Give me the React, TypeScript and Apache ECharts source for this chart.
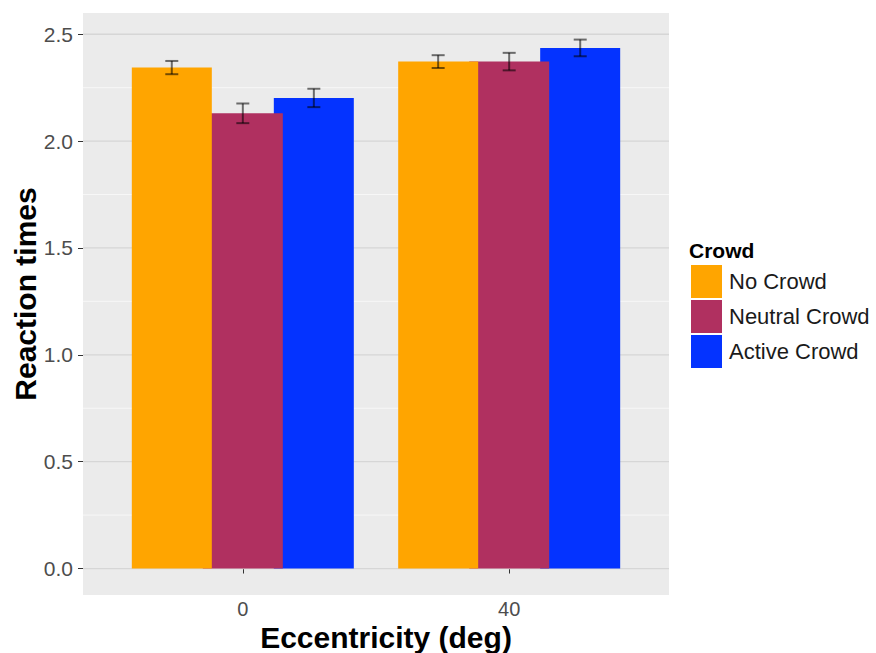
import React, { useEffect, useRef } from 'react';
import * as echarts from 'echarts';

// ---- data ----
const categories = ['0', '40'];
const groupNames = ['No Crowd', 'Neutral Crowd', 'Active Crowd'];
const noCrowd = [2.344, 2.372];
const neutralCrowd = [2.13, 2.372];
const activeCrowd = [2.202, 2.436];
const noCrowdSE = [0.031, 0.03];
const neutralCrowdSE = [0.046, 0.041];
const activeCrowdSE = [0.043, 0.039];
const yTicks = [0, 0.5, 1, 1.5, 2, 2.5];
const yMinor = [0.25, 0.75, 1.25, 1.75, 2.25];

// ---- styling ----
const colors = ['#FFA500', '#B03060', '#0433FF'];
const FONT = '"Liberation Sans", Arial, Helvetica, sans-serif';
const DODGE = 0.8 / 3; // position_dodge offset in axis units
const X_MIN = 0.4;
const X_MAX = 2.6;
const Y_MIN = -0.1238;
const Y_MAX = 2.5994;

export default function App() {
  const ref = useRef<HTMLDivElement>(null);

  useEffect(() => {
    if (!ref.current) return;
    const chart = echarts.init(ref.current, undefined, { renderer: 'svg' });

    const values = [noCrowd, neutralCrowd, activeCrowd];
    const ses = [noCrowdSE, neutralCrowdSE, activeCrowdSE];
    const xPos = categories.map((_, i) => i + 1);

    const barSeries = groupNames.map((name, g) => ({
      name,
      type: 'bar',
      z: 6 - g,
      barWidth: 80,
      barGap: '-11.25%',
      itemStyle: { color: colors[g] },
      emphasis: { disabled: true },
      data: xPos.map((x, i) => [x, values[g][i]]),
    }));

    const errData: number[][] = [];
    groupNames.forEach((_, g) => {
      xPos.forEach((x, i) => {
        errData.push([x, values[g][i], ses[g][i], g]);
      });
    });

    const gridSeries = (vals: number[], color: string, width: number) => ({
      type: 'custom',
      z: 1,
      silent: true,
      encode: { x: 0, y: 1 },
      data: vals.map((v) => [1, v]),
      renderItem: (params: any, api: any) => {
        const cs = params.coordSys;
        const y = api.coord([1, api.value(1)])[1];
        return {
          type: 'line',
          shape: { x1: cs.x, y1: y, x2: cs.x + cs.width, y2: y },
          style: { stroke: color, lineWidth: width },
        };
      },
    });

    const option: any = {
      animation: false,
      textStyle: { fontFamily: FONT },
      grid: {
        left: 83,
        top: 13,
        width: 586,
        height: 582,
        show: true,
        backgroundColor: '#EBEBEB',
        borderWidth: 0,
      },
      xAxis: {
        type: 'value',
        min: X_MIN,
        max: X_MAX,
        axisLine: { show: false },
        splitLine: { show: false },
        axisTick: {
          show: true,
          customValues: xPos,
          length: 5,
          lineStyle: { color: '#333333', width: 1 },
        },
        axisLabel: {
          customValues: xPos,
          formatter: (v: number) => categories[Math.round(v) - 1] ?? '',
          fontSize: 20,
          color: '#4D4D4D',
          fontFamily: FONT,
          margin: 4,
        },
      },
      yAxis: {
        type: 'value',
        min: Y_MIN,
        max: Y_MAX,
        axisLine: { show: false },
        splitLine: { show: false },
        axisTick: {
          show: true,
          customValues: yTicks,
          length: 5,
          lineStyle: { color: '#333333', width: 1 },
        },
        axisLabel: {
          customValues: yTicks,
          formatter: (v: number) => v.toFixed(1),
          fontSize: 21,
          color: '#4D4D4D',
          fontFamily: FONT,
          margin: 10,
        },
      },
      legend: {
        data: groupNames,
        orient: 'vertical',
        left: 691,
        top: 265,
        padding: 0,
        itemWidth: 31,
        itemHeight: 33,
        itemGap: 2,
        icon: 'rect',
        selectedMode: false,
        textStyle: { fontSize: 22, color: '#1A1A1A', fontFamily: FONT, padding: [0, 0, 0, 2] },
      },
      graphic: [
        {
          type: 'text',
          x: 689,
          y: 250,
          style: {
            text: 'Crowd',
            font: `bold 21px ${FONT}`,
            fill: '#000',
            textAlign: 'left',
            textVerticalAlign: 'middle',
          },
        },
        {
          type: 'text',
          x: 25,
          y: 294,
          rotation: Math.PI / 2,
          style: {
            text: 'Reaction times',
            font: `bold 30px ${FONT}`,
            fill: '#000',
            textAlign: 'center',
            textVerticalAlign: 'middle',
          },
        },
        {
          type: 'text',
          x: 386,
          y: 637,
          style: {
            text: 'Eccentricity (deg)',
            font: `bold 30px ${FONT}`,
            fill: '#000',
            textAlign: 'center',
            textVerticalAlign: 'middle',
          },
        },
      ],
      series: [
        gridSeries(yMinor, '#F7F7F7', 1),
        gridSeries(yTicks, '#D6D6D6', 1.3),
        ...barSeries,
        {
          type: 'custom',
          name: 'errorbars',
          z: 10,
          silent: true,
          encode: { x: 0, y: 1 },
          data: errData,
          renderItem: (params: any, api: any) => {
            const x = api.value(0) + (api.value(3) - 1) * DODGE;
            const m = api.value(1);
            const s = api.value(2);
            const top = api.coord([x, m + s]);
            const bot = api.coord([x, m - s]);
            const hw = 6.5;
            const st = { stroke: 'rgba(0,0,0,0.55)', lineWidth: 2 };
            return {
              type: 'group',
              children: [
                { type: 'line', shape: { x1: top[0], y1: top[1], x2: bot[0], y2: bot[1] }, style: st },
                { type: 'line', shape: { x1: top[0] - hw, y1: top[1], x2: top[0] + hw, y2: top[1] }, style: st },
                { type: 'line', shape: { x1: bot[0] - hw, y1: bot[1], x2: bot[0] + hw, y2: bot[1] }, style: st },
              ],
            };
          },
        },
      ],
    };

    chart.setOption(option);
    return () => chart.dispose();
  }, []);

  return (
    <div
      ref={ref}
      style={{ position: 'fixed', left: 0, top: 0, width: 876, height: 653, background: '#fff' }}
    />
  );
}
